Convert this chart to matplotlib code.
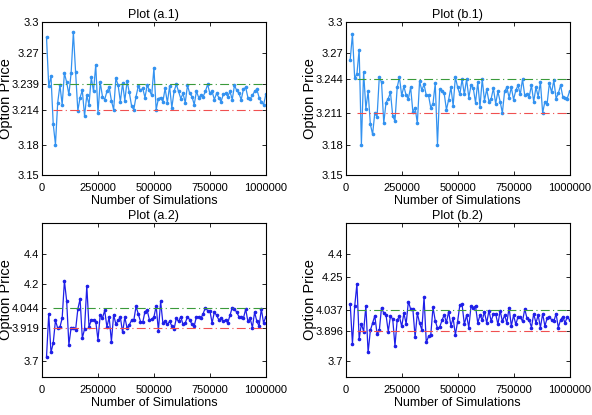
import matplotlib
matplotlib.use("Agg")
import matplotlib.pyplot as plt
import numpy as np

plt.rcParams["font.family"] = ["Liberation Sans", "DejaVu Sans"]

n_sims = np.arange(20000, 1000001, 10000)

price_a1 = [
    3.285, 3.237, 3.247, 3.200, 3.180, 3.221, 3.238, 3.219, 3.250, 3.241,
    3.229, 3.250, 3.290, 3.251, 3.213, 3.226, 3.233, 3.208, 3.228, 3.219,
    3.246, 3.232, 3.258, 3.211, 3.241, 3.227, 3.224, 3.232, 3.236, 3.223,
    3.214, 3.245, 3.238, 3.222, 3.240, 3.223, 3.242, 3.231, 3.218, 3.214,
    3.227, 3.237, 3.233, 3.235, 3.226, 3.238, 3.233, 3.228, 3.255, 3.214,
    3.225, 3.226, 3.222, 3.235, 3.221, 3.237, 3.216, 3.232, 3.239, 3.232,
    3.225, 3.230, 3.221, 3.238, 3.230, 3.227, 3.219, 3.232, 3.226, 3.228,
    3.227, 3.232, 3.239, 3.230, 3.232, 3.224, 3.230, 3.226, 3.222, 3.229,
    3.230, 3.227, 3.232, 3.224, 3.238, 3.233, 3.230, 3.224, 3.234, 3.236,
    3.226, 3.225, 3.228, 3.232, 3.234, 3.226, 3.222, 3.219, 3.229,
]
price_b1 = [
    3.263, 3.288, 3.245, 3.249, 3.273, 3.180, 3.251, 3.215, 3.232, 3.200,
    3.190, 3.211, 3.207, 3.246, 3.241, 3.201, 3.221, 3.225, 3.231, 3.208,
    3.203, 3.236, 3.246, 3.228, 3.237, 3.228, 3.225, 3.236, 3.212, 3.216,
    3.201, 3.242, 3.233, 3.239, 3.228, 3.228, 3.216, 3.220, 3.240, 3.180,
    3.234, 3.232, 3.230, 3.214, 3.224, 3.236, 3.218, 3.246, 3.236, 3.229,
    3.244, 3.229, 3.244, 3.226, 3.238, 3.235, 3.221, 3.241, 3.217, 3.244,
    3.223, 3.234, 3.222, 3.225, 3.235, 3.220, 3.232, 3.222, 3.211, 3.232,
    3.236, 3.226, 3.236, 3.224, 3.233, 3.238, 3.229, 3.244, 3.228, 3.229,
    3.227, 3.238, 3.222, 3.236, 3.227, 3.241, 3.211, 3.222, 3.220, 3.240,
    3.231, 3.243, 3.225, 3.230, 3.238, 3.227, 3.226, 3.225, 3.232,
]
price_a2 = [
    3.728, 4.009, 3.758, 3.819, 3.966, 3.916, 3.923, 3.981, 4.223, 4.094,
    3.808, 3.920, 3.916, 3.905, 4.040, 4.105, 3.851, 3.910, 4.191, 3.923,
    3.970, 3.970, 3.959, 3.840, 4.003, 3.981, 4.031, 3.923, 3.988, 3.829,
    4.003, 3.942, 3.966, 3.988, 3.888, 3.988, 3.916, 3.938, 3.966, 3.966,
    4.057, 4.009, 3.959, 3.953, 4.024, 4.031, 3.970, 3.974, 3.988, 4.060,
    3.900, 4.090, 3.950, 3.960, 3.940, 3.960, 3.930, 3.910, 3.980, 3.960,
    3.990, 3.940, 3.950, 3.990, 3.970, 3.940, 3.930, 3.990, 3.990, 3.980,
    4.010, 4.050, 4.030, 4.030, 3.950, 4.020, 4.000, 3.970, 3.980, 3.960,
    3.970, 3.950, 4.000, 4.050, 4.040, 4.020, 3.990, 3.990, 3.980, 4.040,
    3.960, 3.980, 3.920, 4.020, 3.960, 3.930, 4.040, 3.950, 3.990,
]
price_b2 = [
    4.074, 3.814, 4.057, 4.204, 3.845, 3.944, 3.894, 4.061, 3.758, 3.901,
    3.949, 3.996, 3.879, 3.901, 4.050, 4.013, 4.003, 3.894, 3.996, 3.974,
    3.801, 3.970, 3.992, 3.927, 4.013, 3.944, 4.089, 4.040, 4.040, 3.858,
    4.013, 3.949, 3.905, 4.117, 3.823, 3.862, 3.872, 4.052, 3.964, 3.916,
    3.923, 3.966, 4.003, 3.953, 4.024, 3.931, 3.981, 3.872, 3.959, 4.067,
    4.070, 3.940, 4.000, 3.920, 4.060, 4.050, 4.060, 3.950, 4.000, 3.970,
    4.020, 3.950, 4.030, 3.960, 4.010, 4.010, 3.940, 4.030, 3.960, 4.000,
    3.950, 4.050, 3.930, 4.000, 3.940, 3.990, 3.990, 3.960, 4.040, 3.980,
    3.970, 3.920, 4.010, 3.950, 4.000, 3.920, 4.010, 3.930, 3.980, 3.990,
    3.970, 3.960, 4.010, 3.920, 3.970, 3.990, 3.950, 3.990, 3.970,
]

upper = {"a.1": 3.239, "b.1": 3.244, "a.2": 4.044, "b.2": 4.037}
lower = {"a.1": 3.214, "b.1": 3.211, "a.2": 3.919, "b.2": 3.896}
yticks = {
    "a.1": [3.15, 3.18, 3.214, 3.239, 3.27, 3.3],
    "b.1": [3.15, 3.18, 3.211, 3.244, 3.27, 3.3],
    "a.2": [3.7, 3.919, 4.044, 4.2, 4.4],
    "b.2": [3.7, 3.896, 4.037, 4.25, 4.4],
}
xticks = [0, 250000, 500000, 750000, 1000000]
line_start = 50000

fig = plt.figure(figsize=(5.92, 4.15), dpi=100)
panels = [
    ("a.1", price_a1, [0.071, 0.578, 0.378, 0.369], "#3392f0", (3.15, 3.3)),
    ("b.1", price_b1, [0.584, 0.578, 0.378, 0.369], "#3392f0", (3.15, 3.3)),
    ("a.2", price_a2, [0.071, 0.092, 0.378, 0.371], "#1f1fe8", (3.6, 4.6)),
    ("b.2", price_b2, [0.584, 0.092, 0.378, 0.371], "#1f1fe8", (3.6, 4.6)),
]

for name, prices, rect, color, ylim in panels:
    ax = fig.add_axes(rect)
    ax.plot(n_sims, prices, color=color, linewidth=0.9, marker="o",
            markersize=1.6)
    ax.plot([line_start, 1000000], [upper[name]] * 2, color="#3a9a3a",
            linestyle=(0, (8, 3, 1, 3)), linewidth=0.8)
    ax.plot([line_start, 1000000], [lower[name]] * 2, color="#f05050",
            linestyle=(0, (8, 3, 1, 3)), linewidth=0.8)
    ax.set_xlim(0, 1000000)
    ax.set_ylim(*ylim)
    ax.set_xticks(xticks)
    ax.set_xticklabels([str(t) for t in xticks])
    ax.set_yticks(yticks[name])
    ax.set_yticklabels([f"{t:g}" for t in yticks[name]])
    ax.tick_params(direction="in", top=True, right=True, labelsize=8,
                   length=3, width=0.6)
    ax.tick_params(axis="x", pad=6)
    ax.tick_params(axis="y", pad=2)
    for s in ax.spines.values():
        s.set_linewidth(0.8)
    ax.set_title(f"Plot ({name})", fontsize=9, pad=3)
    ax.set_xlabel("Number of Simulations", fontsize=9, labelpad=1)
    ax.set_ylabel("Option Price", fontsize=10.5)
    ax.yaxis.set_label_coords(-0.128, 0.5)

fig.savefig("out.png", dpi=100)
